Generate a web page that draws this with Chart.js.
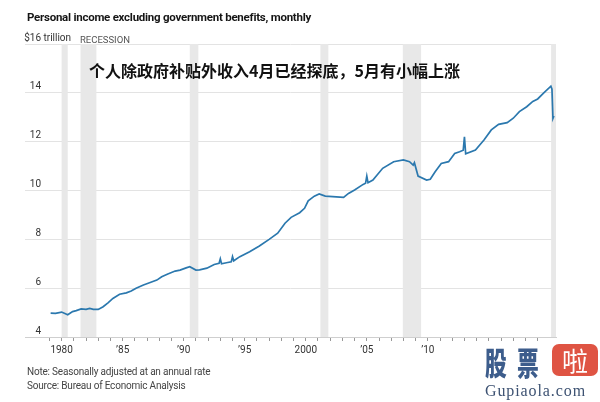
<!DOCTYPE html>
<html lang="zh">
<head>
<meta charset="UTF-8"/>
<title>Personal income excluding government benefits</title>
<script src="https://cdn.jsdelivr.net/npm/chart.js"></script>
<style>
	body {
		margin: 0;
		background: #fff;
		font-family: Roboto, "Liberation Sans", sans-serif;
	}
	.page {
		position: relative;
		width: 600px;
		height: 402px;
		overflow: hidden;
	}
	#chart {
		position: absolute;
		left: 0;
		top: 0;
	}
	.title {
		position: absolute;
		left: 27px;
		top: 10px;
		font-size: 11.5px;
		font-weight: bold;
		color: #151515;
		letter-spacing: -0.25px;
	}
	.recession {
		position: absolute;
		left: 80px;
		top: 34px;
		font-size: 9.5px;
		color: #555;
	}
	.headline {
		position: absolute;
		left: 89px;
		top: 58px;
		font-family: "Noto Sans CJK SC", sans-serif;
		font-size: 16px;
		font-weight: bold;
		color: #111;
	}
	.note {
		position: absolute;
		left: 27px;
		font-size: 10px;
		color: #444;
		letter-spacing: -0.2px;
	}
	.mark {
		position: absolute;
		left: 478px;
		top: 342px;
		width: 122px;
		height: 60px;
		background: #fff;
	}
	.mark .gp {
		position: absolute;
		top: 0;
		width: 32px;
		font-family: "Noto Sans CJK SC", sans-serif;
		font-weight: 900;
		font-size: 32px;
		line-height: 38px;
		color: #3d5d8c;
		transform: scaleX(0.68);
		transform-origin: 0 0;
	}
	.mark .la {
		position: absolute;
		left: 74px;
		top: 2px;
		width: 46px;
		height: 32px;
		background: #df5443;
		border-radius: 7px;
		color: #fff;
		font-family: "Noto Sans CJK SC", sans-serif;
		font-size: 26px;
		line-height: 32px;
		text-align: center;
	}
	.mark .url {
		position: absolute;
		left: 7px;
		top: 40px;
		font-family: "Liberation Serif", "DejaVu Serif", serif;
		font-size: 16px;
		color: #3d5272;
		letter-spacing: 0.9px;
	}
</style>
</head>
<body>
<div class="page">
	<canvas id="chart" width="600" height="402"></canvas>
	<div class="title">Personal income excluding government benefits, monthly</div>
	<div class="recession">RECESSION</div>
	<div class="headline">个人除政府补贴外收入4月已经探底，5月有小幅上涨</div>
	<div class="note" style="top:366px">Note: Seasonally adjusted at an annual rate</div>
	<div class="note" style="top:380px">Source: Bureau of Economic Analysis</div>
	<div class="mark">
		<span class="gp" style="left:7px">股</span>
		<span class="gp" style="left:39px">票</span>
		<div class="la">啦</div>
		<div class="url">Gupiaola.com</div>
	</div>
</div>

<script>
	// trillions of dollars
	const years = [
		1979.1, 1979.5, 1980.0, 1980.5, 1980.9, 1981.2, 1981.6, 1982.0, 1982.3, 1982.6,
		1983.0, 1983.4, 1983.8, 1984.2, 1984.75, 1985.3, 1985.7, 1986.1, 1986.7, 1987.2,
		1987.8, 1988.2, 1988.7, 1989.3, 1989.7, 1990.2, 1990.5, 1991.0, 1991.3, 1991.9,
		1992.5, 1992.9, 1993.0, 1993.1, 1993.5, 1993.9, 1994.0, 1994.1, 1994.6, 1995.4,
		1996.2, 1997.0, 1997.7, 1998.3, 1998.8, 1999.5, 1999.9, 2000.2, 2000.7, 2001.1,
		2001.6, 2002.2, 2003.1, 2003.5, 2004.0, 2004.7, 2004.9, 2005.0, 2005.1, 2005.5,
		2006.3, 2007.2, 2008.0, 2008.5, 2008.8, 2008.9, 2009.2, 2009.9, 2010.2, 2010.6,
		2011.1, 2011.7, 2012.2, 2012.6, 2012.9, 2013.0, 2013.1, 2013.9, 2014.6, 2015.2,
		2015.8, 2016.5, 2017.0, 2017.5, 2018.1, 2018.6, 2019.0, 2019.5, 2020.08, 2020.17,
		2020.25, 2020.33
	];
	const income = [
		4.98, 4.97, 5.02, 4.91, 5.04, 5.08, 5.15, 5.13, 5.17, 5.13,
		5.13, 5.24, 5.40, 5.58, 5.75, 5.81, 5.88, 6.00, 6.13, 6.22,
		6.33, 6.47, 6.58, 6.70, 6.74, 6.83, 6.88, 6.74, 6.75, 6.82,
		6.97, 7.02, 7.20, 7.00, 7.04, 7.08, 7.29, 7.12, 7.29, 7.49,
		7.73, 8.00, 8.25, 8.66, 8.90, 9.09, 9.27, 9.58, 9.77, 9.86,
		9.77, 9.75, 9.72, 9.88, 10.02, 10.25, 10.30, 10.59, 10.32, 10.43,
		10.91, 11.18, 11.25, 11.18, 11.04, 11.14, 10.59, 10.43, 10.46, 10.77,
		11.11, 11.18, 11.52, 11.59, 11.65, 12.20, 11.50, 11.66, 12.07, 12.48,
		12.71, 12.78, 12.96, 13.23, 13.43, 13.65, 13.75, 14.00, 14.27, 14.15,
		12.95, 13.05
	];
	const recessionStart = [1980.0, 1981.55, 1990.5, 2001.2, 2007.95, 2020.1];
	const recessionEnd = [1980.5, 1982.85, 1991.2, 2001.85, 2009.45, 2020.5];
	const yTicks = [4, 6, 8, 10, 12, 14, 16];

	const recessionBars = {
		id: "recessionBars",
		beforeDatasetsDraw(chart) {
			const { ctx, chartArea, scales } = chart;
			ctx.save();
			ctx.fillStyle = "#e8e8e8";
			for (let i = 0; i < recessionStart.length; i++) {
				const x1 = scales.x.getPixelForValue(recessionStart[i]);
				const x2 = Math.min(scales.x.getPixelForValue(recessionEnd[i]), chartArea.right);
				ctx.fillRect(x1, chartArea.top, x2 - x1, chartArea.bottom - chartArea.top);
			}
			ctx.restore();
		}
	};

	// y labels sit right-aligned above their gridlines; the top one reads "$16 trillion"
	const yLabels = {
		id: "yLabels",
		afterDraw(chart) {
			const { ctx, scales } = chart;
			ctx.save();
			ctx.font = "10px Roboto, sans-serif";
			ctx.fillStyle = "#333";
			ctx.textBaseline = "middle";
			yTicks.forEach(v => {
				const y = scales.y.getPixelForValue(v) - 6;
				ctx.textAlign = "right";
				ctx.fillText(v === 16 ? "$16" : String(v), 41, y);
				if (v === 16) {
					ctx.textAlign = "left";
					ctx.fillText(" trillion", 41, y);
				}
			});
			ctx.restore();
		}
	};

	new Chart(document.getElementById("chart"), {
		type: "line",
		data: {
			datasets: [{
				data: years.map((t, i) => ({ x: t, y: income[i] })),
				borderColor: "#2b78ae",
				borderWidth: 1.7,
				pointRadius: 0,
				tension: 0
			}]
		},
		options: {
			responsive: false,
			animation: false,
			layout: { padding: { left: 25, right: 44, top: 44, bottom: 45 } },
			plugins: { legend: { display: false }, tooltip: { enabled: false } },
			scales: {
				x: {
					type: "linear",
					min: 1977,
					max: 2020.5,
					afterBuildTicks: s => {
						s.ticks = s.ticks.filter(t => t.value >= 1979 && t.value <= 2020);
					},
					afterFit: s => { s.height = 20; },
					border: { color: "#cfcfcf", width: 1 },
					grid: {
						drawOnChartArea: false,
						drawTicks: true,
						tickLength: 4,
						tickColor: "#999"
					},
					ticks: {
						stepSize: 1,
						autoSkip: false,
						maxRotation: 0,
						padding: 3,
						color: "#333",
						font: { size: 10, family: "Roboto" },
						callback: v => {
							if (v % 5 !== 0) return "";
							if (v % 100 === 0 || v === 1980) return String(v);
							return "\u2019" + String(v).slice(2);
						}
					}
				},
				y: {
					min: 4,
					max: 16,
					afterFit: s => { s.width = 0; },
					border: { display: false },
					grid: { color: "#e3e3e3", drawTicks: false },
					ticks: { stepSize: 2, display: false }
				}
			}
		},
		plugins: [recessionBars, yLabels]
	});
</script>
</body>
</html>
